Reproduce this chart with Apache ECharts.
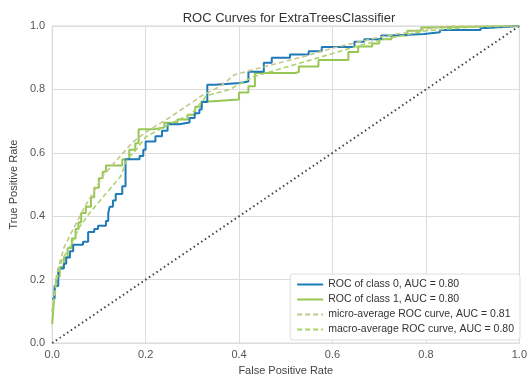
<!DOCTYPE html>
<html><head><meta charset="utf-8">
<script src="https://cdn.jsdelivr.net/npm/echarts@6/dist/echarts.min.js"></script>
<style>html,body{margin:0;padding:0;background:#fff}#c{width:530px;height:381px}</style>
</head><body><div id="c"></div>
<script>
const titleText = "ROC Curves for ExtraTreesClassifier";
const xAxisName = "False Positive Rate";
const yAxisName = "True Positive Rate";
const seriesNames = ["ROC of class 0, AUC = 0.80", "ROC of class 1, AUC = 0.80",
  "micro-average ROC curve, AUC = 0.81", "macro-average ROC curve, AUC = 0.80"];

// class 0 (step curve: at each FPR the TPR rises to the given value)
const class0Fpr = [0,0.005,0.013,0.025,0.03,0.038,0.045,0.066,0.077,0.09,0.098,0.115,0.12,0.123,0.13,0.136,0.15,0.157,0.187,0.195,0.2,0.221,0.235,0.247,0.272,0.294,0.305,0.315,0.32,0.332,0.349,0.402,0.42,0.453,0.47,0.509,0.549,0.577,0.647,0.668,0.704,0.726,0.796,0.83,0.917,0.93,1];
const class0Tpr = [0.14,0.18,0.235,0.25,0.27,0.29,0.31,0.32,0.35,0.36,0.37,0.385,0.41,0.43,0.45,0.47,0.495,0.58,0.59,0.61,0.636,0.652,0.67,0.69,0.696,0.71,0.725,0.737,0.76,0.815,0.82,0.825,0.856,0.884,0.9,0.91,0.92,0.934,0.95,0.958,0.97,0.975,0.98,0.987,0.994,1,1];

// class 1
const class1Fpr = [0,0.003,0.006,0.01,0.016,0.025,0.033,0.042,0.05,0.056,0.062,0.072,0.083,0.09,0.1,0.108,0.115,0.15,0.165,0.178,0.185,0.215,0.24,0.268,0.29,0.306,0.32,0.336,0.4,0.42,0.434,0.52,0.528,0.57,0.634,0.655,0.685,0.7,0.726,0.76,0.79,0.8,1];
const class1Tpr = [0.06,0.12,0.17,0.21,0.24,0.27,0.3,0.33,0.36,0.38,0.41,0.43,0.46,0.49,0.52,0.54,0.56,0.58,0.61,0.63,0.674,0.68,0.695,0.705,0.72,0.745,0.762,0.768,0.79,0.81,0.852,0.855,0.872,0.893,0.918,0.935,0.945,0.958,0.97,0.985,0.995,1,1];

// micro-average
const microFpr = [0,0.01,0.025,0.045,0.07,0.09,0.11,0.14,0.172,0.2,0.25,0.32,0.36,0.39,0.45,0.53,0.6,0.7,0.8,0.85,1];
const microTpr = [0.1,0.22,0.3,0.36,0.43,0.48,0.53,0.58,0.633,0.665,0.71,0.78,0.81,0.846,0.87,0.9,0.93,0.965,0.99,1,1];

// macro-average
const macroFpr = [0,0.01,0.02,0.04,0.06,0.08,0.1,0.12,0.147,0.16,0.18,0.2,0.25,0.3,0.33,0.38,0.43,0.5,0.57,0.65,0.7,0.8,0.9,1];
const macroTpr = [0.1,0.2,0.26,0.31,0.37,0.41,0.445,0.48,0.527,0.58,0.61,0.65,0.69,0.725,0.78,0.8,0.84,0.87,0.9,0.935,0.955,0.985,0.997,1];

// chance line
const diagX = [0,1];
const diagY = [0,1];

function pairs(xs, ys){ return xs.map((x,i)=>[x,ys[i]]); }

const FONT = "Liberation Sans";
const chart = echarts.init(document.getElementById('c'), null, {renderer:'canvas'});
chart.setOption({
  backgroundColor:'#fff',
  animation:false,
  title:{text:titleText,left:284,top:7,textAlign:'center',
    textStyle:{fontFamily:FONT,fontSize:13,fontWeight:'normal',color:'#333'}},
  grid:{left:49,right:10,top:26,bottom:36,show:true,borderColor:'#d4d4d4',borderWidth:1},
  xAxis:{type:'value',min:0,max:1,interval:0.2,
    name:xAxisName,nameLocation:'middle',nameGap:20,
    nameTextStyle:{fontFamily:FONT,fontSize:11,color:'#444'},
    axisLine:{show:false},axisTick:{show:false},
    axisLabel:{fontFamily:FONT,fontSize:11,color:'#555',margin:6,formatter:v=>v.toFixed(1)},
    splitLine:{show:true,lineStyle:{color:'#dcdcdc',width:1}}},
  yAxis:{type:'value',min:0,max:1,interval:0.2,
    name:yAxisName,nameLocation:'middle',nameGap:31,
    nameTextStyle:{fontFamily:FONT,fontSize:11,color:'#444'},
    axisLine:{show:false},axisTick:{show:false},
    axisLabel:{fontFamily:FONT,fontSize:11,color:'#555',margin:7,formatter:v=>v.toFixed(1)},
    splitLine:{show:true,lineStyle:{color:'#dcdcdc',width:1}}},
  legend:{orient:'vertical',right:10,bottom:41,
    data:seriesNames,
    backgroundColor:'rgba(255,255,255,0.9)',borderColor:'#dedede',borderWidth:1,borderRadius:3,
    padding:[5,6,5,6],itemGap:4,itemWidth:26,itemHeight:11,
    itemStyle:{opacity:0,borderWidth:0},
    textStyle:{fontFamily:FONT,fontSize:10.5,color:'#333'}},
  series:[
    {name:seriesNames[0],type:'line',step:'end',symbol:'none',data:pairs(class0Fpr,class0Tpr),
      lineStyle:{color:'#1f7ab8',width:2},itemStyle:{color:'#1f7ab8'},z:4},
    {name:seriesNames[1],type:'line',step:'end',symbol:'none',data:pairs(class1Fpr,class1Tpr),
      lineStyle:{color:'#98c655',width:2},itemStyle:{color:'#98c655'},z:3},
    {name:seriesNames[2],type:'line',symbol:'none',data:pairs(microFpr,microTpr),
      lineStyle:{color:'#c4c88a',width:1.6,type:[5,3]},itemStyle:{color:'#c4c88a'},z:5},
    {name:seriesNames[3],type:'line',symbol:'none',data:pairs(macroFpr,macroTpr),
      lineStyle:{color:'#a9d36b',width:1.6,type:[5,3]},itemStyle:{color:'#a9d36b'},z:5},
    {name:'chance',type:'line',symbol:'none',data:pairs(diagX,diagY),
      lineStyle:{color:'#444',width:2,type:[1.5,3]},z:2,silent:true}
  ]
});
</script></body></html>
